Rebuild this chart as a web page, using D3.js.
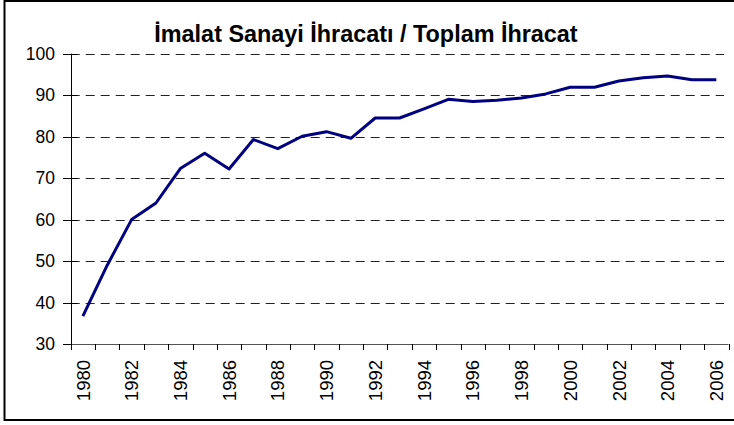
<!DOCTYPE html>
<html>
<head>
<meta charset="utf-8">
<script src="https://cdn.jsdelivr.net/npm/d3@7"></script>
<style>
  body { margin: 0; background: #fff; }
  svg { display: block; font-family: "Liberation Sans", Arial, sans-serif; }
</style>
</head>
<body>
<div id="chart"></div>
<script>
// data
const years = d3.range(1980, 2007);
const values = [36.7, 49.0, 60.0, 64.0, 72.3, 76.0, 72.2, 79.3, 77.1, 80.1,
                81.2, 79.6, 84.5, 84.5, 86.7, 89.0, 88.5, 88.8, 89.3, 90.3,
                91.9, 91.9, 93.4, 94.2, 94.6, 93.7, 93.7];
const yTicks = [30, 40, 50, 60, 70, 80, 90, 100];
const xLabels = years.filter(y => y % 2 === 0);
const title = "İmalat Sanayi İhracatı / Toplam İhracat";

const W = 734, H = 425;
const plot = {left: 70.7, right: 728.5, top: 53.7, bottom: 344};

const svg = d3.select("#chart").append("svg")
    .attr("width", W)
    .attr("height", H);

// outer frame (cut on the right, like the original)
svg.append("rect")
    .attr("x", 4.5).attr("y", 1)
    .attr("width", 800).attr("height", 419)
    .attr("fill", "none")
    .attr("stroke", "#000")
    .attr("stroke-width", 2);

svg.append("text")
    .attr("x", 366)
    .attr("y", 41.5)
    .attr("text-anchor", "middle")
    .style("font-size", "23.4px")
    .style("font-weight", "bold")
    .text(title);

const x = d3.scaleBand().domain(years).range([plot.left, plot.right]).padding(0);
const y = d3.scaleLinear().domain([30, 100]).range([plot.bottom, plot.top]);

// dashed gridlines
svg.append("g")
    .selectAll("line")
    .data(yTicks.filter(d => d > 30))
    .enter()
    .append("line")
    .attr("x1", plot.left)
    .attr("x2", 724)
    .attr("y1", d => Math.round(y(d)) + 0.5)
    .attr("y2", d => Math.round(y(d)) + 0.5)
    .attr("stroke", "#222")
    .attr("stroke-dasharray", "9,6");

// y axis: line, cross ticks, labels
const yAxis = svg.append("g");
yAxis.append("line")
    .attr("x1", Math.round(plot.left) + 0.5).attr("x2", Math.round(plot.left) + 0.5)
    .attr("y1", plot.top).attr("y2", plot.bottom)
    .attr("stroke", "#000");
yAxis.selectAll(".tick")
    .data(yTicks)
    .enter()
    .append("line")
    .attr("x1", 63).attr("x2", 77)
    .attr("y1", d => Math.round(y(d)) + 0.5)
    .attr("y2", d => Math.round(y(d)) + 0.5)
    .attr("stroke", "#000");
yAxis.selectAll("text")
    .data(yTicks)
    .enter()
    .append("text")
    .attr("x", 55)
    .attr("y", d => y(d))
    .attr("dy", "0.36em")
    .attr("text-anchor", "end")
    .style("font-size", "17.5px")
    .text(d => d);

// x axis: line, ticks between categories, rotated labels
const xAxis = svg.append("g");
xAxis.append("line")
    .attr("x1", plot.left).attr("x2", plot.right)
    .attr("y1", Math.round(plot.bottom) + 0.5).attr("y2", Math.round(plot.bottom) + 0.5)
    .attr("stroke", "#555");
xAxis.selectAll(".tick")
    .data(years.concat([null]))
    .enter()
    .append("line")
    .attr("x1", (d, i) => Math.round(plot.left + i * x.bandwidth()) + 0.5)
    .attr("x2", (d, i) => Math.round(plot.left + i * x.bandwidth()) + 0.5)
    .attr("y1", plot.bottom)
    .attr("y2", plot.bottom + 6)
    .attr("stroke", "#000");
xAxis.selectAll("text")
    .data(xLabels)
    .enter()
    .append("text")
    .attr("transform", d => `translate(${x(d) + x.bandwidth() / 2},${plot.bottom + 16}) rotate(-90)`)
    .attr("dy", "0.36em")
    .attr("text-anchor", "end")
    .style("font-size", "18.5px")
    .text(d => d);

// the series
const line = d3.line()
    .x((d, i) => x(years[i]) + x.bandwidth() / 2)
    .y(d => y(d));

svg.append("path")
    .datum(values)
    .attr("d", line)
    .attr("fill", "none")
    .attr("stroke", "#000080")
    .attr("stroke-width", 3)
    .attr("stroke-linejoin", "round");
</script>
</body>
</html>
